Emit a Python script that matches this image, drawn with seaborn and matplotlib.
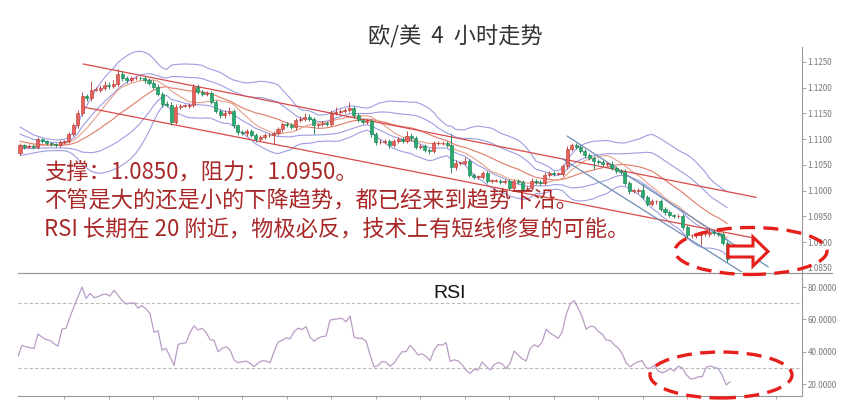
import numpy as np
import pandas as pd
import seaborn as sns
import matplotlib.pyplot as plt
from matplotlib.patches import Ellipse, Polygon
from matplotlib.lines import Line2D
from matplotlib.ticker import FormatStrFormatter

# prices are kept as points above 1.0800 (1 point = 0.0001)
BASE = 1.0800

# closes before the visible window (only feed the moving averages / bands)
prior_pts = [325, 322, 318, 312, 308, 303, 300, 296, 292, 288,
             290, 286, 283, 285, 288, 290, 287, 289, 273]

# 4H closes
close_pts = [288, 285, 287, 285, 300, 296, 292, 290, 288, 294,
             296, 310, 327, 350, 383, 379, 396, 396, 400, 406,
             404, 408, 427, 418, 414, 418, 419, 418, 415, 410,
             402, 387, 369, 367, 333, 362, 365, 365, 367, 402,
             392, 388, 390, 373, 354, 346, 350, 354, 327, 313,
             312, 315, 308, 300, 304, 308, 308, 312, 319, 329,
             327, 323, 337, 340, 344, 340, 327, 329, 331, 329,
             350, 352, 354, 356, 360, 346, 338, 333, 335, 310,
             294, 294, 296, 288, 296, 300, 296, 306, 302, 285,
             287, 279, 277, 292, 292, 292, 288, 246, 254, 254,
             258, 231, 227, 227, 235, 219, 219, 219, 217, 219,
             206, 219, 217, 204, 206, 219, 217, 215, 231, 235,
             233, 233, 248, 281, 288, 285, 277, 269, 263, 258,
             256, 252, 252, 244, 238, 237, 215, 200, 200, 202,
             188, 175, 179, 179, 164, 158, 152, 150, 150, 129,
             113, 113, 113, 115, 115, 119, 117, 115, 98, 67]

wick_up = [4, 3, 4, 3, 5, 3, 3, 2, 3, 4,
           3, 4, 5, 6, 8, 4, 16, 5, 6, 7,
           5, 6, 10, 6, 4, 5, 4, 3, 5, 4,
           4, 5, 4, 6, 5, 6, 4, 3, 4, 6,
           5, 4, 4, 3, 4, 5, 6, 8, 4, 3,
           4, 4, 5, 3, 4, 3, 4, 3, 5, 4,
           4, 5, 4, 5, 6, 5, 4, 3, 4, 4,
           6, 11, 5, 4, 13, 5, 4, 3, 4, 4,
           4, 6, 5, 4, 5, 4, 4, 9, 5, 4,
           3, 4, 4, 5, 4, 4, 4, 22, 5, 4,
           7, 4, 3, 4, 4, 4, 3, 4, 3, 4,
           4, 4, 3, 4, 3, 5, 4, 4, 5, 4,
           3, 4, 4, 6, 5, 4, 4, 3, 4, 4,
           4, 4, 3, 6, 4, 4, 5, 4, 3, 4,
           11, 4, 4, 3, 4, 5, 4, 3, 4, 4,
           4, 3, 4, 4, 5, 8, 4, 3, 4, 4]

wick_dn = [4, 5, 3, 4, 4, 3, 4, 3, 4, 4,
           4, 3, 4, 5, 5, 4, 4, 3, 4, 5,
           6, 4, 4, 5, 4, 3, 4, 4, 5, 4,
           5, 4, 6, 4, 6, 4, 4, 3, 4, 4,
           4, 5, 4, 5, 4, 5, 4, 4, 5, 4,
           4, 5, 4, 5, 4, 4, 3, 18, 4, 5,
           4, 4, 5, 4, 4, 5, 17, 4, 3, 4,
           4, 3, 4, 4, 4, 4, 5, 4, 3, 5,
           5, 4, 4, 5, 4, 4, 4, 3, 5, 4,
           4, 4, 5, 4, 4, 3, 4, 11, 5, 4,
           4, 5, 4, 4, 5, 4, 4, 3, 4, 5,
           5, 4, 4, 4, 4, 5, 4, 4, 4, 4,
           4, 3, 4, 5, 4, 4, 4, 5, 4, 16,
           4, 5, 4, 4, 4, 5, 4, 6, 4, 4,
           4, 5, 4, 4, 4, 5, 4, 3, 4, 5,
           5, 4, 4, 19, 4, 5, 4, 3, 4, 6]

rsi_vals = [37, 44, 43, 42.5, 42, 51, 49, 47.5, 47, 45,
            43.5, 54, 54.5, 61.6, 68, 74, 80, 73, 76, 73.5,
            74, 75.3, 75.6, 74.4, 78, 75, 71.5, 69.5, 70, 70.3,
            67, 68.5, 66.5, 63.5, 52, 53, 41, 42, 37, 31.5,
            44.5, 45.2, 45.5, 52, 56, 53.5, 54.5, 52, 47.5, 47,
            40, 42, 43, 41, 35, 33.2, 33.7, 34.2, 32.8, 30.8,
            33, 34.4, 34.2, 33.2, 40, 46, 47, 48.5, 48, 52.5,
            54.5, 53.8, 55.5, 49, 46.5, 48.5, 49.3, 49.7, 59.6, 60,
            60.4, 60.6, 58.5, 62, 49, 48.3, 48.3, 46.5, 38, 30.6,
            31.5, 34, 33.5, 31, 33, 36.7, 40, 40, 44, 41.3,
            38, 38.7, 37, 34.5, 41, 44.5, 44, 45.6, 34, 35,
            34.3, 32, 28.5, 26.6, 29.2, 28.7, 33.5, 31, 28.7, 32,
            33.4, 32.5, 29.5, 33, 40.4, 38, 35.6, 34.3, 42, 44.3,
            43, 46, 53.9, 51.4, 50, 48.3, 52, 63, 69.5, 71.6,
            67, 61.6, 53.9, 55.7, 55.5, 52.6, 51, 47.2, 47, 44.3,
            42.3, 38.8, 33, 30.7, 32.5, 33.8, 34.5, 30, 29.7, 31.5,
            28, 27, 27.9, 29.7, 28, 31, 30, 26, 23.3, 23.3,
            24.5, 24.5, 30.3, 31.2, 30.3, 29.5, 25.5, 19.5, 21.4]

price_ticks = [1.0850, 1.0900, 1.0950, 1.1000, 1.1050, 1.1100, 1.1150, 1.1200, 1.1250]
rsi_ticks = [20, 40, 60, 80]
rsi_levels = [30, 70]

# hand-drawn trend lines: (candle index, price) end points
red_lines = [((14.2, 1.1246), (165.5, 1.0987)),
             ((13.9, 1.1163), (165.0, 1.0908))]
blue_lines = [((123.0, 1.1106), (168.2, 1.0852)),
              ((121.9, 1.1062), (162.6, 1.0840))]

title = "欧/美  4  小时走势"
notes = ["支撑：1.0850，阻力：1.0950。",
         "不管是大的还是小的下降趋势，都已经来到趋势下沿。",
         "RSI 长期在 20 附近，物极必反，技术上有短线修复的可能。"]

# ---- build the frame
k = len(prior_pts)
allc = pd.Series(prior_pts + close_pts, dtype=float) / 10000 + BASE
mid = allc.rolling(20).mean()
sd = allc.rolling(20).std(ddof=0)
ma10 = allc.rolling(10).mean()

n = len(close_pts)
df = pd.DataFrame({
    "idx": np.arange(n),
    "close": allc[k:].values,
    "open": allc.shift(1)[k:].values,
    "mid": mid[k:].values,
    "ma10": ma10[k:].values,
    "up1": (mid + sd)[k:].values,
    "dn1": (mid - sd)[k:].values,
    "up2": (mid + 2 * sd)[k:].values,
    "dn2": (mid - 2 * sd)[k:].values,
})
df["high"] = df[["open", "close"]].max(axis=1) + np.array(wick_up) / 10000
df["low"] = df[["open", "close"]].min(axis=1) - np.array(wick_dn) / 10000

sns.set_theme(style="white")
plt.rcParams["font.family"] = ["Noto Sans CJK SC", "DejaVu Sans"]

W, H = 846, 412
fig = plt.figure(figsize=(W / 100, H / 100), dpi=100)


def px(x, y):
    return (x / W, 1 - y / H)


ax = fig.add_axes([18 / W, 1 - 272 / H, 784 / W, 225 / H])
ax2 = fig.add_axes([18 / W, 1 - 396 / H, 784 / W, 123 / H])
xlim = (-0.45, 175.8)

# bands and averages
band_c = "#9d9de2"
for col in ["up2", "up1", "dn1", "dn2"]:
    sns.lineplot(x=df["idx"], y=df[col], ax=ax, color=band_c, lw=0.8, zorder=2)
sns.lineplot(x=df["idx"], y=df["mid"], ax=ax, color="#e07a68", lw=0.8, zorder=2)
sns.lineplot(x=df["idx"], y=df["ma10"], ax=ax, color="#e8a08a", lw=0.8, zorder=2)

for (x0, y0), (x1, y1) in red_lines:
    ax.plot([x0, x1], [y0, y1], color="#d94a4a", lw=0.9, zorder=2)
for (x0, y0), (x1, y1) in blue_lines:
    ax.plot([x0, x1], [y0, y1], color="#6f8db5", lw=0.9, zorder=2)

# candles
up = df["close"] >= df["open"]
body = (df["close"] - df["open"]).abs().clip(lower=0.00008)
bottom = df[["open", "close"]].min(axis=1)
for mask, fc, ec in [(up, "#e8625c", "#b5332e"), (~up, "#25ad70", "#157a49")]:
    ax.vlines(df["idx"][mask], df["low"][mask], df["high"][mask], color=ec, lw=0.6, zorder=3)
    ax.bar(df["idx"][mask], body[mask], bottom=bottom[mask], width=0.68,
           color=fc, edgecolor=ec, lw=0.4, zorder=4)

ax.set_xlim(*xlim)
ax.set_ylim(1.0842, 1.1279)
ax.yaxis.tick_right()
ax.set_yticks(price_ticks)
ax.yaxis.set_major_formatter(FormatStrFormatter("%.4f"))
ax.set_xticks([])
ax.set_xlabel("")
ax.set_ylabel("")

# RSI panel
rsi_x = np.linspace(-0.45, 159.66, len(rsi_vals))
for lv in rsi_levels:
    ax2.axhline(lv, color="#b8b8b8", lw=0.8, ls=(0, (3, 2)), zorder=1)
sns.lineplot(x=rsi_x, y=rsi_vals, ax=ax2, color="#b89cc4", lw=0.9, zorder=3)
ax2.set_xlim(*xlim)
ax2.set_ylim(12.6, 88.7)
ax2.yaxis.tick_right()
ax2.set_yticks(rsi_ticks)
ax2.yaxis.set_major_formatter(FormatStrFormatter("%.4f"))
ax2.set_xticks(np.arange(10, 176, 10))
ax2.set_xticklabels([])
ax2.set_xlabel("")
ax2.set_ylabel("")

for a in (ax, ax2):
    a.set_facecolor("white")
    a.spines["left"].set_visible(False)
    a.spines["top"].set_visible(False)
    a.spines["bottom"].set_visible(False)
    a.spines["right"].set_color("#999999")
    a.spines["right"].set_linewidth(0.8)
    a.tick_params(axis="y", which="major", direction="out", length=3, width=0.6,
                  color="#999999", labelsize=5.8, labelcolor="#777777", pad=1,
                  right=True, left=False)
ax2.spines["bottom"].set_visible(True)
ax2.spines["bottom"].set_color("#999999")
ax2.spines["bottom"].set_linewidth(0.8)
ax2.tick_params(axis="x", direction="out", length=2, width=0.6, color="#999999",
                bottom=True)

# separator between the two panels, running under the price labels
fig.add_artist(Line2D([18 / W, 832 / W], [1 - 272.5 / H] * 2, transform=fig.transFigure,
                      color="#999999", lw=0.9))

# texts
fig.text(*px(455, 37), title, ha="center", va="center", fontsize=16, color="#333333")
for y, line in zip([173, 201, 230], notes):
    fig.text(*px(44, y), line, ha="left", va="center", fontsize=16, color="#a82828", zorder=6)
fig.text(*px(450, 293), "RSI", ha="center", va="center", fontsize=14, color="#111111",
         family=["Liberation Sans", "DejaVu Sans"])

# dashed ellipses and hollow arrow
red = "#e5201c"
for cx, cy, w, h in [(751, 251, 152, 47), (721, 375, 142, 46)]:
    fig.add_artist(Ellipse(px(cx, cy), w / W, h / H, transform=fig.transFigure, fill=False,
                           ec=red, lw=2.4, ls=(0, (4.5, 2.5)), zorder=10))
arrow_pts = [px(728, 246), px(753, 246), px(753, 237), px(768, 251.5),
             px(753, 266), px(753, 257), px(728, 257)]
fig.add_artist(Polygon(arrow_pts, closed=True, transform=fig.transFigure, fc="white",
                       ec=red, lw=2.2, joinstyle="miter", zorder=11))

fig.savefig("out.png", dpi=100)
